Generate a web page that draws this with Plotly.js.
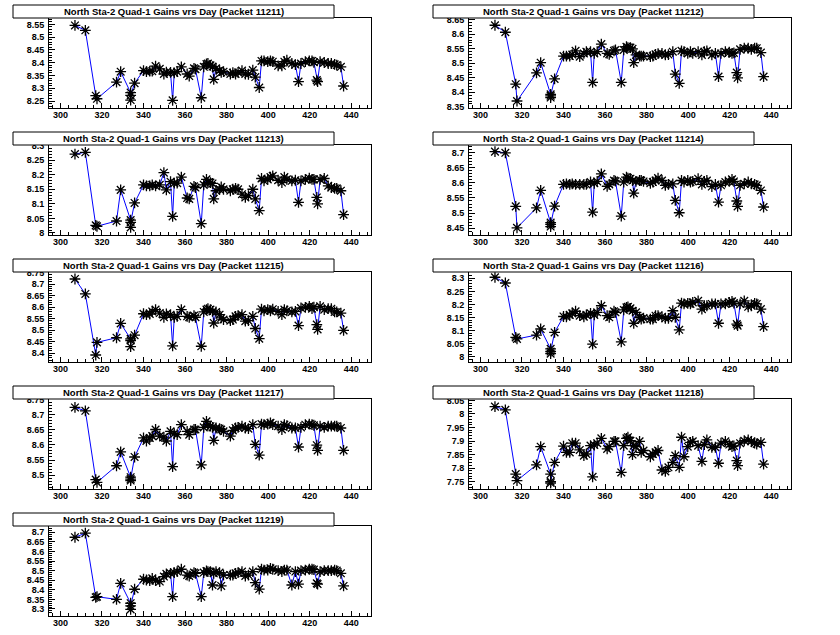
<!DOCTYPE html>
<html>
<head>
<meta charset="utf-8">
<script src="https://cdn.plot.ly/plotly-3.0.1.min.js"></script>
<style>html,body{margin:0;padding:0;background:#fff;}#chart{width:840px;height:635px;}</style>
</head>
<body>
<div id="chart"></div>
<script>
const packets = ["11211","11212","11213","11214","11215","11216","11217","11218","11219"];
const days = [307,312,317,317.6,327,329,333.8,333.8,333.8,335.7,340,341.4,343,344.2,345.8,347.8,349.8,351,353,354,354.8,356.2,358.2,361,362,364.3,365,367.8,369,370.3,371,372.2,373.2,373.8,374.9,376.6,377.4,378.5,381.8,383,384.3,385.5,387.4,389,390.5,392.6,393.8,395.7,396.8,398,399.8,401.1,402.2,404.8,406.6,407.8,409,411.4,413.1,414.6,415.8,417.9,419.8,421.1,422,423.4,423.8,425,427,428.9,430.4,432,433,435,436.3];

const g11211 = [8.546,8.527,8.271,8.259,8.324,8.365,8.283,8.254,8.272,8.32,
8.369,8.365,8.367,8.367,8.387,8.376,8.356,8.363,8.362,8.253,
8.36,8.365,8.384,8.356,8.348,8.378,8.375,8.263,8.384,8.395,
8.397,8.39,8.385,8.335,8.378,8.369,8.362,8.365,8.356,8.361,
8.356,8.362,8.369,8.356,8.355,8.371,8.344,8.303,8.407,8.407,
8.404,8.407,8.404,8.388,8.388,8.404,8.41,8.397,8.393,8.326,
8.397,8.404,8.407,8.407,8.402,8.332,8.326,8.404,8.401,8.397,
8.397,8.394,8.391,8.384,8.309];
const g11212 = [8.631,8.607,8.428,8.37,8.467,8.502,8.393,8.382,8.388,8.446,
8.525,8.525,8.525,8.53,8.543,8.523,8.534,8.54,8.54,8.434,
8.534,8.54,8.566,8.534,8.531,8.543,8.546,8.434,8.546,8.557,
8.554,8.554,8.55,8.502,8.529,8.525,8.525,8.525,8.523,8.525,
8.531,8.533,8.534,8.529,8.53,8.54,8.463,8.431,8.543,8.54,
8.534,8.54,8.534,8.54,8.529,8.54,8.543,8.529,8.534,8.454,
8.534,8.54,8.538,8.534,8.536,8.468,8.45,8.548,8.552,8.552,
8.548,8.552,8.552,8.537,8.454];
const g11213 = [8.271,8.277,8.026,8.023,8.041,8.148,8.044,8.019,8.036,8.103,
8.165,8.162,8.162,8.165,8.162,8.165,8.207,8.148,8.176,8.057,
8.171,8.171,8.192,8.12,8.117,8.16,8.156,8.032,8.165,8.184,
8.173,8.173,8.17,8.117,8.145,8.15,8.158,8.15,8.145,8.15,
8.153,8.15,8.133,8.122,8.128,8.15,8.117,8.077,8.187,8.179,
8.184,8.192,8.196,8.181,8.173,8.192,8.184,8.179,8.181,8.105,
8.179,8.184,8.188,8.184,8.184,8.122,8.1,8.184,8.187,8.162,
8.156,8.153,8.153,8.145,8.063];
const g11214 = [8.704,8.70,8.522,8.451,8.517,8.575,8.468,8.455,8.462,8.523,
8.595,8.597,8.595,8.597,8.595,8.595,8.595,8.595,8.603,8.503,
8.599,8.605,8.63,8.589,8.595,8.608,8.606,8.49,8.603,8.619,
8.616,8.614,8.608,8.566,8.605,8.608,8.608,8.605,8.599,8.603,
8.608,8.616,8.608,8.592,8.595,8.597,8.542,8.501,8.608,8.603,
8.608,8.603,8.605,8.614,8.595,8.605,8.608,8.588,8.595,8.536,
8.592,8.603,8.605,8.612,8.605,8.54,8.522,8.592,8.597,8.603,
8.597,8.595,8.592,8.575,8.52];
const g11215 = [8.722,8.657,8.392,8.447,8.467,8.529,8.462,8.428,8.455,8.478,
8.571,8.567,8.57,8.581,8.589,8.574,8.556,8.57,8.567,8.432,
8.556,8.56,8.589,8.56,8.556,8.563,8.556,8.43,8.579,8.589,
8.593,8.589,8.581,8.531,8.579,8.567,8.553,8.546,8.541,8.546,
8.56,8.563,8.567,8.539,8.541,8.56,8.507,8.463,8.591,8.584,
8.589,8.584,8.591,8.581,8.567,8.589,8.584,8.579,8.581,8.52,
8.596,8.599,8.603,8.593,8.6,8.524,8.503,8.603,8.589,8.593,
8.593,8.579,8.579,8.574,8.499];
const g11216 = [8.304,8.282,8.074,8.068,8.083,8.106,8.03,8.012,8.02,8.093,
8.154,8.153,8.16,8.166,8.174,8.157,8.153,8.16,8.166,8.048,
8.16,8.17,8.195,8.157,8.151,8.174,8.17,8.057,8.179,8.189,
8.191,8.185,8.176,8.128,8.17,8.151,8.144,8.148,8.144,8.144,
8.157,8.157,8.153,8.147,8.147,8.176,8.151,8.103,8.205,8.202,
8.204,8.202,8.208,8.214,8.182,8.195,8.195,8.202,8.202,8.128,
8.202,8.202,8.208,8.212,8.205,8.125,8.119,8.202,8.214,8.191,
8.195,8.204,8.202,8.182,8.115];
const g11217 = [8.724,8.713,8.485,8.476,8.531,8.577,8.493,8.482,8.487,8.56,
8.623,8.613,8.623,8.629,8.651,8.629,8.626,8.613,8.645,8.528,
8.637,8.634,8.667,8.645,8.634,8.651,8.651,8.534,8.658,8.678,
8.667,8.662,8.658,8.615,8.656,8.654,8.651,8.645,8.629,8.648,
8.656,8.658,8.662,8.656,8.654,8.667,8.602,8.566,8.669,8.667,
8.669,8.673,8.667,8.662,8.651,8.667,8.664,8.656,8.656,8.593,
8.658,8.667,8.669,8.667,8.665,8.599,8.582,8.662,8.658,8.662,
8.662,8.662,8.662,8.656,8.582];
const g11218 = [8.027,8.015,7.778,7.754,7.812,7.879,7.778,7.745,7.75,7.821,
7.881,7.858,7.858,7.892,7.892,7.867,7.846,7.852,7.883,7.768,
7.885,7.892,7.91,7.871,7.879,7.899,7.899,7.784,7.883,7.91,
7.914,7.901,7.85,7.883,7.879,7.899,7.858,7.865,7.842,7.852,
7.858,7.865,7.793,7.788,7.803,7.821,7.846,7.803,7.914,7.842,
7.879,7.895,7.899,7.883,7.825,7.887,7.904,7.877,7.877,7.818,
7.892,7.899,7.887,7.879,7.882,7.828,7.809,7.892,7.901,7.904,
7.899,7.892,7.889,7.895,7.815];
const g11219 = [8.674,8.695,8.361,8.364,8.35,8.434,8.33,8.298,8.316,8.403,
8.455,8.451,8.448,8.46,8.448,8.443,8.469,8.483,8.486,8.364,
8.49,8.495,8.507,8.477,8.472,8.49,8.486,8.364,8.49,8.498,
8.495,8.495,8.425,8.486,8.495,8.49,8.42,8.477,8.477,8.477,
8.486,8.49,8.495,8.472,8.477,8.495,8.437,8.404,8.507,8.503,
8.503,8.512,8.507,8.5,8.495,8.503,8.503,8.425,8.495,8.43,
8.5,8.503,8.507,8.507,8.505,8.434,8.43,8.495,8.5,8.5,
8.5,8.503,8.5,8.486,8.42];

const gains = [g11211,g11212,g11213,g11214,g11215,g11216,g11217,g11218,g11219];
const yRanges = [[8.224,8.574],[8.347,8.655],[7.994,8.301],[8.428,8.725],[8.363,8.751],[7.981,8.323],[8.455,8.751],[7.724,8.054],[8.265,8.731]];

const W = 840, H = 635, PW = 420, PH = 127;
const traces = [];
const layout = {
  width: W, height: H,
  margin: {l:0, r:0, t:0, b:0},
  paper_bgcolor: '#fff', plot_bgcolor: '#fff',
  showlegend: false,
  shapes: [], annotations: []
};
const tickFont = {family: 'Liberation Sans, Arial, sans-serif', size: 9, color: '#000', weight: 'bold'};

packets.forEach((p, i) => {
  const col = i % 2, row = Math.floor(i / 2);
  const ox = col * PW, oy = row * PH;
  const sfx = i === 0 ? '' : String(i + 1);
  const xa = 'x' + sfx, ya = 'y' + sfx;
  traces.push({
    x: days, y: gains[i], xaxis: xa, yaxis: ya,
    type: 'scatter', mode: 'lines+markers',
    line: {color: '#0000ff', width: 1},
    marker: {symbol: 'asterisk-open', size: 9, color: '#000', line: {color: '#000', width: 1.3}},
    cliponaxis: true
  });
  const xd = [(ox + 49) / W, (ox + 371) / W];
  const yd = [1 - (oy + 107.7) / H, 1 - (oy + 18.3) / H];
  layout['xaxis' + sfx] = {
    domain: xd, anchor: ya, range: [294.5, 449.5],
    tick0: 0, dtick: 20, ticks: 'inside', ticklen: 5, tickcolor: '#000',
    minor: {ticks: 'inside', ticklen: 3, dtick: 4, tickcolor: '#000'},
    showline: true, linecolor: '#000', linewidth: 1, mirror: true,
    showgrid: false, zeroline: false, tickfont: tickFont, ticklabelstandoff: -2
  };
  layout['yaxis' + sfx] = {
    domain: yd, anchor: xa, range: yRanges[i],
    tick0: 0, dtick: 0.05, ticks: 'inside', ticklen: 6, tickcolor: '#000',
    minor: {ticks: 'inside', ticklen: 3, dtick: 0.01, tickcolor: '#000'},
    showline: true, linecolor: '#000', linewidth: 1, mirror: true,
    showgrid: false, zeroline: false, tickfont: tickFont, ticklabelstandoff: 2
  };
  layout.shapes.push({
    type: 'rect', xref: 'paper', yref: 'paper',
    x0: (ox + 13) / W, x1: (ox + 334) / W,
    y0: 1 - (oy + 18) / H, y1: 1 - (oy + 5) / H,
    fillcolor: '#fff', line: {color: '#000', width: 1}, layer: 'above'
  });
  layout.annotations.push({
    xref: 'paper', yref: 'paper', x: (ox + 173.5) / W, y: 1 - (oy + 11.5) / H,
    xanchor: 'center', yanchor: 'middle', showarrow: false,
    text: 'North Sta-2 Quad-1 Gains vrs Day (Packet ' + p + ')',
    font: {family: 'Liberation Sans, Arial, sans-serif', size: 9.5, color: '#000', weight: 'bold'}
  });
});

Plotly.newPlot('chart', traces, layout, {staticPlot: true, displayModeBar: false});
</script>
</body>
</html>
